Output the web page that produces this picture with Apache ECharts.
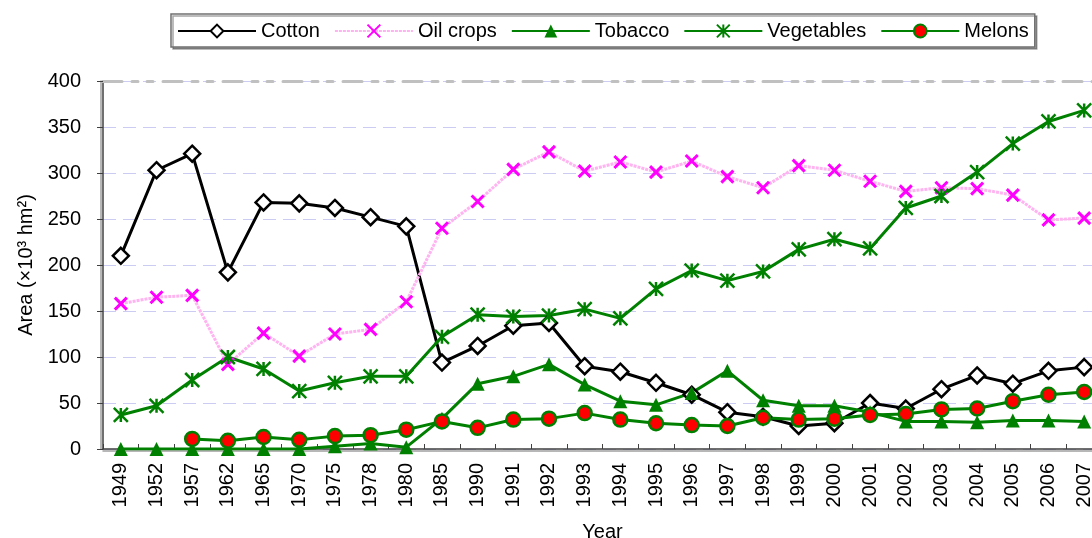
<!DOCTYPE html>
<html>
<head>
<meta charset="utf-8">
<script src="https://cdn.jsdelivr.net/npm/echarts/dist/echarts.min.js"></script>
<style>
  html, body { margin: 0; padding: 0; background: #fff; }
  #chart { width: 1092px; height: 538px; }
</style>
</head>
<body>
<div id="chart"></div>
<script>
// categories (uneven year spacing, treated as categories like the original)
const years = ['1949', '1952', '1957', '1962', '1965', '1970', '1975', '1978', '1980', '1985',
  '1990', '1991', '1992', '1993', '1994', '1995', '1996', '1997', '1998', '1999',
  '2000', '2001', '2002', '2003', '2004', '2005', '2006', '2007'];

// area, 10^3 hm2
const cotton = [210, 303, 321, 192, 268, 267, 262, 252, 242, 94,
  112, 134, 137, 90, 84, 72, 59, 40, 35, 25,
  28, 50, 44, 65, 80, 71, 85, 89];
const oilCrops = [158, 165, 167, 92, 126, 101, 125, 130, 160, 240,
  269, 304, 323, 302, 312, 301, 313, 296, 284, 308,
  303, 291, 280, 284, 283, 276, 249, 251];
const tobacco = [0, 0, 0, 0, 0, 0, 3, 6, 2, 33,
  71, 79, 92, 70, 52, 48, 61, 85, 53, 47,
  47, 40, 30, 30, 29, 31, 31, 30];
const vegetables = [37, 47, 75, 100, 87, 63, 72, 79, 79, 122,
  146, 144, 145, 152, 142, 174, 194, 183, 193, 217,
  228, 218, 262, 275, 301, 332, 356, 368];
const melons = ['-', '-', 11, 9, 13, 10, 14, 15, 21, 30,
  23, 32, 33, 39, 32, 28, 26, 25, 34, 32,
  33, 37, 38, 43, 44, 52, 59, 62];

const yTicks = { min: 0, max: 400, step: 50 };

const FONT = "'Liberation Sans', Arial, sans-serif";
const GREEN = '#008000';
const crossPath = 'path://M0,0L10,10M10,0L0,10';
const starPath = 'path://M5,0L5,10M0,0L10,10M10,0L0,10';

const option = {
  animation: false,
  backgroundColor: '#fff',
  textStyle: { fontFamily: FONT, color: '#000' },
  legend: {
    left: 171, top: 14,
    padding: [7, 6, 6, 6],
    itemWidth: 78, itemHeight: 16, itemGap: 14,
    backgroundColor: '#fff',
    borderColor: '#707070', borderWidth: 1.5,
    shadowColor: 'rgba(0,0,0,0.35)', shadowOffsetX: 2, shadowOffsetY: 2, shadowBlur: 0,
    textStyle: { fontSize: 20, color: '#000', fontFamily: FONT },
    data: ['Cotton', 'Oil crops', 'Tobacco', 'Vegetables', 'Melons']
  },
  // the plot runs a little past the right edge of the picture, as in the original
  grid: { left: 103, top: 81, width: 999, height: 368, outerBoundsMode: 'none', containLabel: false },
  xAxis: [
    {
      type: 'category',
      data: years,
      name: 'Year',
      nameLocation: 'middle',
      nameGap: 73,
      nameTextStyle: { fontSize: 20, color: '#000' },
      axisLine: { lineStyle: { color: '#404040', width: 1.5, shadowColor: '#a0a0a0', shadowOffsetY: 2 } },
      axisTick: { show: true, inside: true, length: 5, interval: 0, lineStyle: { color: '#404040' } },
      axisLabel: { rotate: 90, interval: 0, fontSize: 20, color: '#000', margin: 14 },
      splitLine: { show: false }
    },
    {
      // grey dash-dot frame line along the top of the plot
      type: 'category',
      data: years,
      position: 'top',
      axisLine: { lineStyle: { color: '#c0c0c0', width: 3, type: [19, 10, 6, 9, 6, 10] } },
      axisTick: { show: false },
      axisLabel: { show: false },
      splitLine: { show: false }
    }
  ],
  yAxis: {
    type: 'value',
    min: yTicks.min, max: yTicks.max, interval: yTicks.step,
    name: 'Area (×10³ hm²)',
    nameLocation: 'middle',
    nameGap: 56,
    nameTextStyle: { fontSize: 20, color: '#000' },
    axisLine: { show: true, lineStyle: { color: '#404040', width: 1.5, shadowColor: '#a0a0a0', shadowOffsetX: -2 } },
    axisTick: { show: true, length: 6, lineStyle: { color: '#404040' } },
    axisLabel: { fontSize: 20, color: '#000', margin: 22 },
    splitLine: { show: true, lineStyle: { color: '#ccccf2', width: 1, type: [13, 7] } }
  },
  series: [
    {
      name: 'Cotton', type: 'line', data: cotton,
      symbol: 'diamond', symbolSize: 16,
      lineStyle: { color: '#000', width: 3 },
      itemStyle: { color: '#fff', borderColor: '#000', borderWidth: 2.5 },
      emphasis: { disabled: true }
    },
    {
      name: 'Oil crops', type: 'line', data: oilCrops,
      symbol: crossPath, symbolSize: 12,
      lineStyle: { color: '#ffb3f0', width: 3, type: [3, 1] },
      itemStyle: { color: '#ff00ff', borderColor: '#ff00ff', borderWidth: 3 },
      emphasis: { disabled: true }
    },
    {
      name: 'Tobacco', type: 'line', data: tobacco,
      symbol: 'triangle', symbolSize: 14,
      lineStyle: { color: GREEN, width: 3 },
      itemStyle: { color: GREEN, borderColor: GREEN, borderWidth: 0 },
      emphasis: { disabled: true }
    },
    {
      name: 'Vegetables', type: 'line', data: vegetables,
      symbol: starPath, symbolSize: 14,
      lineStyle: { color: GREEN, width: 3 },
      itemStyle: { color: GREEN, borderColor: GREEN, borderWidth: 2.5 },
      emphasis: { disabled: true }
    },
    {
      name: 'Melons', type: 'line', data: melons,
      symbol: 'circle', symbolSize: 14,
      lineStyle: { color: GREEN, width: 3 },
      itemStyle: { color: '#ff0000', borderColor: GREEN, borderWidth: 2.5 },
      emphasis: { disabled: true }
    }
  ]
};

const chart = echarts.init(document.getElementById('chart'));
chart.setOption(option);
</script>
</body>
</html>
